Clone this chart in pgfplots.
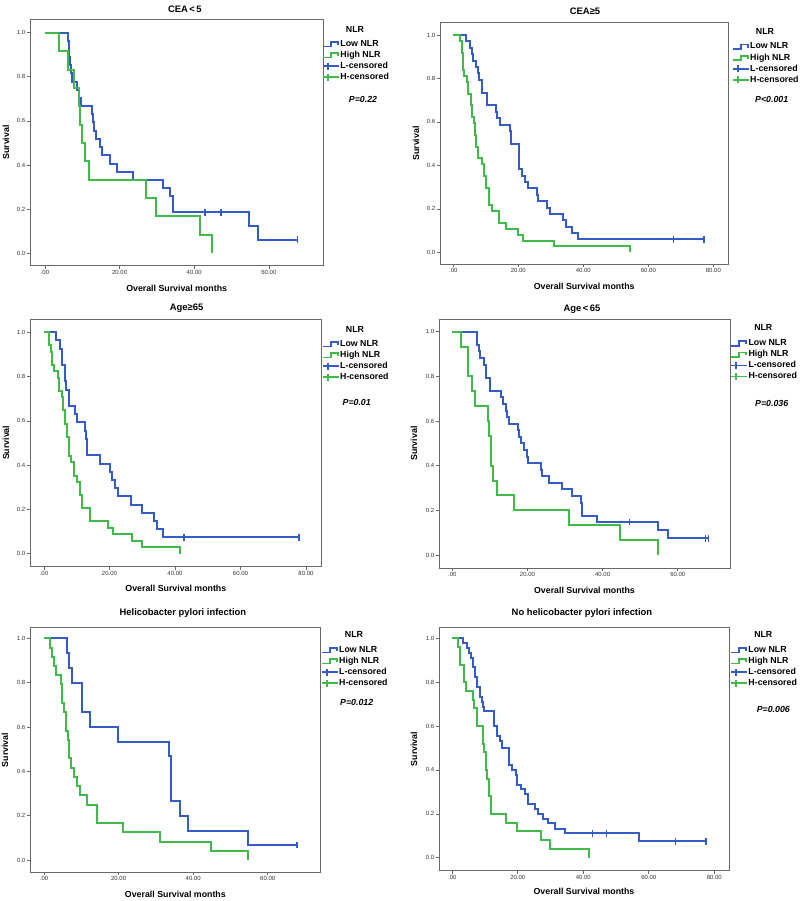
\documentclass[border=0pt]{standalone}
\usepackage{fontspec}
\setmainfont{Liberation Sans}
\usepackage{pgfplots}
\pgfplotsset{compat=1.18}
\definecolor{lowblue}{RGB}{52,92,200}
\definecolor{highgreen}{RGB}{64,186,72}
\definecolor{framegray}{RGB}{105,105,105}
\newcommand{\lbl}{\bfseries\fontsize{8.8}{10}\selectfont}
\pgfplotsset{
 stepimg/.style={legend image code/.code={\draw[##1] (0pt,-2.5pt) -- (8pt,-2.5pt) -- (8pt,2pt) -- (15pt,2pt) -- (15pt,-1pt);}},
 censimg/.style={legend image code/.code={\draw[##1] (0pt,0pt) -- (16pt,0pt); \draw[##1] (5pt,-3.5pt) -- (5pt,3.5pt);}},
 km/.style={
  scale only axis, clip=false, anchor=south west,
  axis line style={draw=framegray, line width=0.8pt},
  tick style={draw=framegray, line width=0.6pt},
  tick align=outside, major tick length=3pt, tick pos=left,
  ytick={0,0.2,0.4,0.6,0.8,1}, yticklabels={0.0,0.2,0.4,0.6,0.8,1.0},
  tick label style={font=\fontsize{6}{7}\selectfont, text=black!80},
  xticklabel style={inner sep=1pt}, yticklabel style={inner sep=1.5pt},
  xlabel={Overall Survival months}, ylabel={Survival},
  label style={font=\lbl, anchor=center},
  every axis title/.style={font=\bfseries\fontsize{9.4}{11}\selectfont, anchor=center},
  legend entries={Low NLR, High NLR, L-censored, H-censored},
  legend cell align=left,
  legend style={draw=none, fill=none, anchor=north west, inner sep=0pt, row sep=1.9pt,
    font=\lbl, nodes={inner sep=0.6pt, text height=6.4pt, text depth=1.6pt}},
 },
 low/.style={lowblue, line width=2pt, const plot},
 high/.style={highgreen, line width=2pt, const plot},
 lowc/.style={lowblue, only marks, mark=|, mark size=3.2pt, mark options={line width=1.4pt}},
 x60/.style={xtick={0,20,40,60}, xticklabels={.00,20.00,40.00,60.00}},
 x80/.style={xtick={0,20,40,60,80}, xticklabels={.00,20.00,40.00,60.00,80.00}},
}
\newcommand{\legimgs}{%
 \addlegendimage{lowblue, line width=1.7pt, stepimg}
 \addlegendimage{highgreen, line width=1.7pt, stepimg}
 \addlegendimage{lowblue, line width=1.7pt, censimg}
 \addlegendimage{highgreen, line width=1.7pt, censimg}}
\begin{document}
\begin{tikzpicture}
\path[use as bounding box] (0,0) rectangle (800pt,901pt);
% ---------- Panel 1
\begin{axis}[km, x60, at={(30pt,635.3pt)}, width=293.3pt, height=246.4pt,
  xmin=-4.02, xmax=74.6, ymin=-0.0562, ymax=1.0607,
  title={CEA\hspace{1.5pt}<\hspace{1.5pt}5}, title style={at={(axis description cs:0.528,1.0406)}},
  xlabel style={at={(axis description cs:0.5,-0.0917)}},
  ylabel style={at={(axis description cs:-0.0818,0.5)}},
  legend style={at={(0.9955,0.9196)}}]
\legimgs
\node[font=\lbl] at (axis description cs:1.108,0.9606) {NLR};
\node[font=\lbl\itshape] at (axis description cs:1.1353,0.6753) {P=0.22};
\addplot[low, forget plot] coordinates {(0,1)(6.1,0.963)(6.3,0.926)(6.5,0.889)(6.7,0.852)(6.9,0.815)(7.15,0.778)(8.5,0.741)(9.1,0.704)(9.65,0.667)(12.5,0.630)(12.8,0.593)(13.2,0.556)(13.8,0.519)(14.7,0.481)(15.2,0.444)(17.4,0.407)(19.4,0.370)(23.7,0.333)(31.7,0.296)(33.5,0.259)(34.3,0.185)(54.7,0.123)(57.1,0.062)(67.7,0.062)};
\addplot[high, forget plot] coordinates {(0,1)(3.8,0.917)(6.2,0.833)(7.8,0.75)(9.1,0.667)(9.4,0.583)(9.8,0.5)(10.7,0.417)(11.9,0.333)(27.0,0.25)(29.7,0.167)(41.6,0.083)(44.7,0)};
\addplot[lowc, forget plot] coordinates {(42.9,0.185)(47.2,0.185)(67.7,0.062)};
\end{axis}
% ---------- Panel 2
\begin{axis}[km, x80, at={(440pt,636.7pt)}, width=288.3pt, height=241.6pt,
  xmin=-4.09, xmax=84.6, ymin=-0.0552, ymax=1.0566,
  title={CEA≥5}, title style={at={(axis description cs:0.503,1.0484)}},
  xlabel style={at={(axis description cs:0.5,-0.0898)}},
  ylabel style={at={(axis description cs:-0.0832,0.5)}},
  legend style={at={(1.0118,0.9210)}}]
\legimgs
\node[font=\lbl] at (axis description cs:1.1273,0.9628) {NLR};
\node[font=\lbl\itshape] at (axis description cs:1.1505,0.6830) {P<0.001};
\addplot[low, forget plot] coordinates {(0,1)(3.8,0.971)(5.1,0.941)(5.6,0.912)(6.2,0.882)(7.0,0.853)(7.5,0.824)(8.0,0.794)(8.9,0.735)(10.5,0.676)(13.0,0.647)(13.5,0.618)(14.4,0.588)(17.4,0.559)(17.9,0.5)(20.2,0.382)(21.0,0.353)(22.1,0.324)(23.1,0.294)(25.6,0.265)(26.2,0.235)(28.7,0.206)(29.7,0.176)(33.8,0.147)(34.6,0.118)(36.4,0.088)(38.5,0.059)(77.1,0.059)};
\addplot[high, forget plot] coordinates {(0,1)(2.05,0.973)(2.56,0.919)(3.08,0.838)(3.28,0.811)(4.1,0.784)(4.6,0.730)(5.3,0.676)(5.8,0.622)(6.4,0.595)(6.7,0.541)(7.0,0.486)(7.7,0.432)(8.7,0.405)(9.4,0.351)(10.1,0.297)(11.1,0.216)(11.9,0.189)(14.1,0.135)(16.2,0.108)(20.0,0.081)(21.3,0.054)(31.0,0.027)(54.4,0)};
\addplot[lowc, forget plot] coordinates {(67.7,0.059)(77.1,0.059)};
\end{axis}
% ---------- Panel 3
\begin{axis}[km, x80, at={(30pt,334.3pt)}, width=291.7pt, height=247.7pt,
  xmin=-4.27, xmax=84.8, ymin=-0.0587, ymax=1.0601,
  title={Age≥65}, title style={at={(axis description cs:0.537,1.0432)}},
  xlabel style={at={(axis description cs:0.5,-0.0872)}},
  ylabel style={at={(axis description cs:-0.0823,0.5)}},
  legend style={at={(1.0,0.9189)}}]
\legimgs
\node[font=\lbl] at (axis description cs:1.1142,0.9572) {NLR};
\node[font=\lbl\itshape] at (axis description cs:1.12,0.6637) {P=0.01};
\addplot[low, forget plot] coordinates {(0,1)(3.7,0.963)(4.9,0.926)(5.4,0.852)(6.4,0.778)(6.6,0.741)(7.6,0.667)(9.5,0.630)(10.0,0.593)(12.5,0.556)(12.8,0.519)(13.0,0.481)(13.2,0.444)(17.1,0.407)(20.2,0.370)(20.7,0.333)(21.7,0.296)(22.7,0.259)(26.6,0.222)(29.8,0.185)(33.7,0.148)(34.6,0.111)(36.4,0.074)(77.9,0.074)};
\addplot[high, forget plot] coordinates {(0,1)(1.6,0.941)(2.1,0.912)(2.6,0.853)(3.2,0.824)(4.4,0.794)(4.7,0.735)(5.4,0.706)(5.9,0.647)(6.4,0.588)(6.9,0.529)(7.6,0.441)(8.2,0.412)(9.2,0.353)(10.0,0.324)(11.0,0.265)(11.7,0.206)(14.0,0.147)(19.6,0.118)(21.2,0.088)(27.0,0.059)(29.8,0.029)(41.5,0)};
\addplot[lowc, forget plot] coordinates {(42.7,0.074)(77.9,0.074)};
\end{axis}
% ---------- Panel 4
\begin{axis}[km, x60, at={(439pt,332.7pt)}, width=291pt, height=249.3pt,
  xmin=-3.54, xmax=73.9, ymin=-0.0596, ymax=1.0569,
  title={Age\hspace{1.5pt}<\hspace{1.5pt}65}, title style={at={(axis description cs:0.491,1.0389)}},
  xlabel style={at={(axis description cs:0.5,-0.087)}},
  ylabel style={at={(axis description cs:-0.0859,0.5)}},
  legend style={at={(1.0,0.9218)}}]
\legimgs
\node[font=\lbl] at (axis description cs:1.1144,0.9651) {NLR};
\node[font=\lbl\itshape] at (axis description cs:1.1433,0.6629) {P=0.036};
\addplot[low, forget plot] coordinates {(0,1)(6.5,0.971)(6.7,0.941)(7.0,0.912)(7.4,0.882)(8.4,0.853)(8.9,0.824)(9.0,0.794)(10.0,0.735)(13.0,0.706)(13.4,0.676)(14.3,0.647)(14.6,0.618)(15.1,0.588)(17.6,0.559)(17.7,0.529)(18.2,0.5)(19.2,0.471)(19.8,0.441)(20.2,0.412)(23.6,0.382)(24.0,0.353)(25.7,0.324)(29.1,0.294)(31.9,0.265)(34.2,0.235)(34.4,0.176)(38.4,0.147)(54.8,0.110)(57.3,0.074)(68.1,0.074)};
\addplot[high, forget plot] coordinates {(0,1)(2.2,0.933)(4.1,0.8)(5.3,0.733)(6.0,0.667)(9.6,0.6)(9.8,0.533)(10.2,0.4)(10.7,0.333)(11.8,0.267)(16.4,0.2)(31.1,0.133)(44.6,0.067)(54.8,0)};
\addplot[lowc, forget plot] coordinates {(47.1,0.147)(67.3,0.074)(68.1,0.074)};
\end{axis}
% ---------- Panel 5
\begin{axis}[km, x60, at={(30pt,28.7pt)}, width=290.7pt, height=244.6pt,
  xmin=-3.76, xmax=74.2, ymin=-0.0555, ymax=1.0478,
  title={Helicobacter pylori infection}, title style={at={(axis description cs:0.526,1.0589)}},
  xlabel style={at={(axis description cs:0.5,-0.0899)}},
  ylabel style={at={(axis description cs:-0.086,0.5)}},
  legend style={at={(1.0,0.9289)}}]
\legimgs
\node[font=\lbl] at (axis description cs:1.1146,0.9730) {NLR};
\node[font=\lbl\itshape] at (axis description cs:1.1238,0.6950) {P=0.012};
\addplot[low, forget plot] coordinates {(0,1)(6.1,0.933)(6.7,0.867)(7.6,0.8)(10.1,0.667)(12.3,0.6)(19.9,0.533)(33.6,0.467)(34.1,0.267)(36.5,0.2)(38.5,0.133)(54.8,0.067)(67.8,0.067)};
\addplot[high, forget plot] coordinates {(0,1)(1.6,0.958)(2.2,0.917)(2.7,0.875)(3.1,0.833)(4.6,0.792)(4.9,0.708)(5.4,0.667)(5.8,0.583)(6.3,0.542)(6.7,0.458)(7.2,0.417)(8.1,0.375)(8.9,0.333)(9.7,0.292)(11.4,0.25)(14.1,0.167)(21.3,0.125)(31.1,0.083)(44.7,0.042)(54.8,0)};
\addplot[lowc, forget plot] coordinates {(67.8,0.067)};
\end{axis}
% ---------- Panel 6
\begin{axis}[km, x80, at={(439pt,30.3pt)}, width=290pt, height=243.4pt,
  xmin=-4.06, xmax=84.5, ymin=-0.0593, ymax=1.0501,
  title={No helicobacter pylori infection}, title style={at={(axis description cs:0.493,1.0575)}},
  xlabel style={at={(axis description cs:0.5,-0.0863)}},
  ylabel style={at={(axis description cs:-0.0862,0.5)}},
  legend style={at={(1.0034,0.9269)}}]
\legimgs
\node[font=\lbl] at (axis description cs:1.1183,0.9705) {NLR};
\node[font=\lbl\itshape] at (axis description cs:1.1528,0.6643) {P=0.006};
\addplot[low, forget plot] coordinates {(0,1)(3.4,0.978)(4.6,0.956)(5.1,0.933)(5.6,0.911)(6.4,0.867)(6.9,0.822)(7.4,0.778)(8.4,0.733)(9.0,0.711)(9.3,0.689)(9.7,0.667)(12.8,0.6)(13.5,0.556)(14.6,0.533)(15.1,0.5)(17.4,0.422)(18.3,0.4)(19.6,0.378)(19.8,0.333)(21.0,0.311)(22.2,0.289)(23.0,0.244)(25.2,0.222)(26.3,0.2)(27.8,0.178)(29.3,0.156)(31.3,0.133)(34.4,0.111)(57.1,0.074)(77.5,0.074)};
\addplot[high, forget plot] coordinates {(0,1)(1.6,0.96)(2.3,0.88)(3.6,0.8)(4.1,0.76)(6.2,0.72)(6.6,0.68)(7.6,0.6)(9.3,0.52)(9.8,0.48)(10.2,0.4)(10.7,0.36)(11.2,0.28)(11.7,0.2)(16.4,0.16)(19.9,0.12)(27.0,0.08)(29.8,0.04)(41.7,0)};
\addplot[lowc, forget plot] coordinates {(42.8,0.111)(47.1,0.111)(68.2,0.074)(77.5,0.074)};
\end{axis}
\end{tikzpicture}
\end{document}
